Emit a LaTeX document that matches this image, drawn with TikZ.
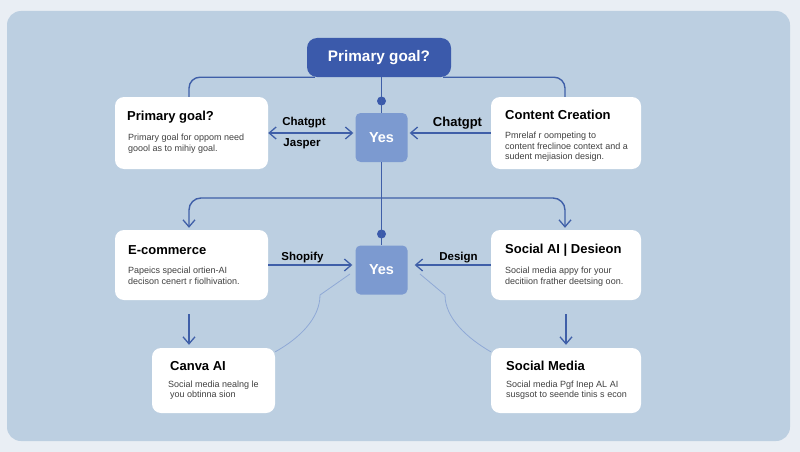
\documentclass[tikz,border=0pt]{standalone}
\usepackage{fontspec}
\setmainfont{Liberation Sans}
\usetikzlibrary{arrows.meta}
\definecolor{pagebg}{HTML}{E9EEF4}
\definecolor{panelbg}{HTML}{BCCFE1}
\definecolor{topblue}{HTML}{3B5AAB}
\definecolor{yesblue}{HTML}{7C9AD0}
\definecolor{linkblue}{HTML}{3F5FA8}
\definecolor{faintblue}{HTML}{8FA9D6}
\begin{document}
\begin{tikzpicture}[x=1pt,y=-1pt]
        \tikzstyle{card}=[fill=white,rounded corners=9pt,inner sep=0pt];
        \tikzstyle{yesbox}=[fill=yesblue,rounded corners=5pt,minimum width=52pt,minimum height=49pt,inner sep=0pt,text=white,font=\fontsize{14.5}{16}\selectfont\bfseries];
        \tikzstyle{title}=[anchor=west,inner sep=0pt,font=\fontsize{13}{15}\selectfont\bfseries];
        \tikzstyle{body}=[anchor=west,inner sep=0pt,align=left,text=black!75,font=\fontsize{9}{10.5}\selectfont];
        \tikzstyle{tool}=[inner sep=0pt,font=\fontsize{11.5}{13}\selectfont\bfseries];
        \tikzstyle{link}=[draw=linkblue,line width=1.4pt];
        \tikzstyle{tip}=[-{Straight Barb[length=7pt,width=12pt,line width=1.3pt]}];
        \tikzstyle{dot}=[circle,fill=topblue,minimum size=9pt,inner sep=0pt];
        \useasboundingbox (0,0) rectangle (800,452);
        \fill[pagebg] (0,0) rectangle (800,452);
        \fill[panelbg,rounded corners=14pt] (7,11) rectangle (790,441);
        %cards
        \node (top) at (379,57.5) [fill=topblue,rounded corners=10pt,minimum width=144pt,minimum height=39pt,inner sep=0pt,text=white,font=\fontsize{15.3}{17}\selectfont\bfseries] {Primary goal?};
        \node (goal) at (191.5,133) [card,minimum width=153pt,minimum height=72pt] {};
        \node (content) at (566,133) [card,minimum width=150pt,minimum height=72pt] {};
        \node (shop) at (191.5,265) [card,minimum width=153pt,minimum height=70pt] {};
        \node (social) at (566,265) [card,minimum width=150pt,minimum height=70pt] {};
        \node (canva) at (213.5,380.5) [card,minimum width=123pt,minimum height=65pt] {};
        \node (media) at (566,380.5) [card,minimum width=150pt,minimum height=65pt] {};
        \node (yesa) at (381.5,137.5) [yesbox] {Yes};
        \node (yesb) at (381.5,270) [yesbox] {Yes};
        \node (dota) at (381.5,101) [dot] {};
        \node (dotb) at (381.5,234) [dot] {};
        \coordinate (branch) at (381.5,198);
        %card texts
        \node (goalt) at (127,117) [title] {Primary goal?};
        \node (goalb) at (128,143.5) [body] {Primary goal for oppom need\\goool as to mihiy goal.};
        \node (contentt) at (505,115) [title] {Content Creation};
        \node (contentb) at (505,147) [body] {Pmrelaf r oompeting to\\content freclinoe context and a\\sudent mejiasion design.};
        \node (shopt) at (128,250) [title] {E-commerce};
        \node (shopb) at (128,276) [body] {Papeics special ortien-AI\\decison cenert r fiolhivation.};
        \node (socialt) at (505,250) [title] {Social AI | Desieon};
        \node (socialb) at (505,276.5) [body] {Social media appy for your\\decitiion frather deetsing oon.};
        \node (canvat) at (170,366) [title] {Canva AI};
        \node (canvab) at (168,390) [body] {Social media nealng le\\\hspace{2pt}you obtinna sion};
        \node (mediat) at (506,366) [title] {Social Media};
        \node (mediab) at (506,390) [body] {Social media Pgf Inep AL AI\\susgsot to seende tinis s econ};
        %tool labels
        \node (chata) at (304,123) [tool] {Chatgpt};
        \node (jasper) at (302,144) [tool] {Jasper};
        \node (chatb) at (457.5,123.5) [tool,font=\fontsize{13}{15}\selectfont\bfseries] {Chatgpt};
        \node (shopify) at (302.5,257.5) [tool] {Shopify};
        \node (design) at (458.5,257.5) [tool] {Design};
        %links
        \draw[link] (top.south -| yesa) -- (yesa);
        \draw[link] (yesa) -- (yesb);
        \draw[link,rounded corners=11pt] ([xshift=8pt]top.south west) -| ([xshift=-2.5pt]goal.north);
        \draw[link,rounded corners=11pt] ([xshift=-8pt]top.south east) -| ([xshift=-1pt]content.north);
        \draw[link,tip,rounded corners=12pt] (branch) -| ([xshift=-2.5pt,yshift=2pt]shop.north);
        \draw[link,tip,rounded corners=12pt] (branch) -| ([xshift=-1pt,yshift=2pt]social.north);
        \draw[link,{Straight Barb[length=7pt,width=12pt,line width=1.3pt]}-{Straight Barb[length=7pt,width=12pt,line width=1.3pt]}] (goal.east) -- ([xshift=-2pt]yesa.west |- goal.east);
        \draw[link,tip] (content.west) -- ([xshift=2pt]yesa.east |- content.west);
        \draw[link,tip] (shop.east) -- ([xshift=-3pt]yesb.west |- shop.east);
        \draw[link,tip] (social.west) -- ([xshift=7pt]yesb.east |- social.west);
        \draw[link,tip] ([xshift=-2.5pt,yshift=-14pt]shop.south) -- ([xshift=-2.5pt,yshift=3pt]shop.south |- canva.north);
        \draw[link,tip] ([yshift=-14pt]social.south) -- ([yshift=3pt]social.south |- media.north);
        \draw[faintblue,line width=0.8pt] ([yshift=-4pt]canva.north east) .. controls (300,338) and (320,318) .. (320,295) -- (350,274);
        \draw[faintblue,line width=0.8pt] ([yshift=-4pt]media.north west) .. controls (467,338) and (445,318) .. (445,295) -- (420,274);
\end{tikzpicture}
\end{document}
